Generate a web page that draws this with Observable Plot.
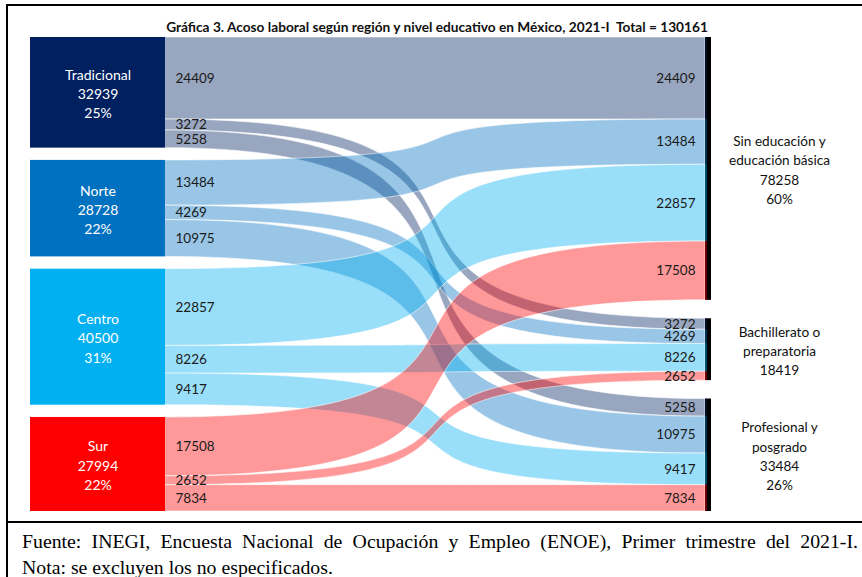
<!DOCTYPE html>
<html>
<head>
<meta charset="utf-8">
<script src="https://cdn.jsdelivr.net/npm/d3@7"></script>
<script src="https://cdn.jsdelivr.net/npm/@observablehq/plot@0.6"></script>
<style>
  html, body { margin: 0; padding: 0; background: #fff; }
  body { width: 862px; height: 577px; position: relative; overflow: hidden; font-family: Lato, sans-serif; }
  #frame { position: absolute; left: 6px; top: 4px; width: 860px; height: 600px; border-top: 2px solid #000; border-left: 2px solid #000; }
  #title { position: absolute; top: 18px; left: 0; width: 874px; text-align: center; font: bold 13.7px Lato, sans-serif; color: #111; white-space: pre; }
  #chart { position: absolute; left: 0; top: 35px; }
  #sep { position: absolute; left: 6px; top: 521px; width: 860px; height: 2px; background: #000; }
  #footer { position: absolute; left: 22px; top: 528px; width: 836px; font-family: "Liberation Serif", "Times New Roman", serif; font-size: 19.8px; line-height: 26px; color: #000; }
  #footer .l1 { text-align: justify; text-align-last: justify; }
</style>
</head>
<body>
<div id="frame"></div>
<div id="title">Gráfica 3. Acoso laboral según región y nivel educativo en México, 2021-I  Total = 130161</div>
<div id="chart"></div>
<div id="sep"></div>
<div id="footer">
  <div class="l1">Fuente: INEGI, Encuesta Nacional de Ocupación y Empleo (ENOE), Primer trimestre del 2021-I.</div>
  <div>Nota: se excluyen los no especificados.</div>
</div>
<script>
// ---- data ----
const regions = ["Tradicional", "Norte", "Centro", "Sur"];
const regionTotals = [32939, 28728, 40500, 27994];
const regionColors = ["#002060", "#0070C0", "#00B0F0", "#FF0000"];
const levels = ["Sin educación y\neducación básica", "Bachillerato o\npreparatoria", "Profesional y\nposgrado"];
const levelTotals = [78258, 18419, 33484];
const levelShowPct = [true, false, true];
// flows by level, in region order (Tradicional, Norte, Centro, Sur)
const sinEducacion = [24409, 13484, 22857, 17508];
const bachillerato = [3272, 4269, 8226, 2652];
const profesional = [5258, 10975, 9417, 7834];
const grandTotal = 130161;

// ---- layout (derived) ----
const flows = [sinEducacion, bachillerato, profesional];
const gapL = 3650;
const D = grandTotal + 3 * gapL;
const gapR = (D - grandTotal) / 2;
const pct = v => Math.round(100 * v / grandTotal) + "%";

const leftNodes = [];
let acc = 0;
regions.forEach((r, i) => {
  leftNodes.push({name: r, y1: acc, y2: acc + regionTotals[i], color: regionColors[i],
    label: r + "\n" + regionTotals[i] + "\n" + pct(regionTotals[i])});
  acc += regionTotals[i] + gapL;
});
const rightNodes = [];
acc = 0;
levels.forEach((l, j) => {
  rightNodes.push({name: l, y1: acc, y2: acc + levelTotals[j],
    label: l + "\n" + levelTotals[j] + (levelShowPct[j] ? "\n" + pct(levelTotals[j]) : "")});
  acc += levelTotals[j] + gapR;
});
const links = [];
regions.forEach((r, i) => {
  let s = leftNodes[i].y1;
  levels.forEach((l, j) => {
    const v = flows[j][i];
    let t = rightNodes[j].y1;
    for (let k = 0; k < i; k++) t += flows[j][k];
    links.push({id: r + "-" + j, value: v, color: regionColors[i], sy1: s, sy2: s + v, ty1: t, ty2: t + v});
    s += v;
  });
});
const linkPts = links.flatMap(d => [
  {id: d.id, color: d.color, x: 0, y1: d.sy1, y2: d.sy2},
  {id: d.id, color: d.color, x: 1, y1: d.ty1, y2: d.ty2}
]);

// steeper horizontal bump curve (control points pushed toward the middle-opposite ends)
function steepBump(context) {
  const a = 0.82;
  return {
    areaStart() { this._line = 0; },
    areaEnd() { this._line = NaN; },
    lineStart() { this._point = 0; },
    lineEnd() {
      if (this._line || (this._line !== 0 && this._point === 1)) context.closePath();
      this._line = 1 - this._line;
    },
    point(x, y) {
      x = +x; y = +y;
      if (this._point === 0) {
        this._point = 1;
        if (this._line) context.lineTo(x, y); else context.moveTo(x, y);
      } else {
        const dx = x - this._x0;
        context.bezierCurveTo(this._x0 + a * dx, this._y0, x - a * dx, y, x, y);
      }
      this._x0 = x; this._y0 = y;
    }
  };
}

const nodeW = 135 / 540;
const barW = 6 / 540;
const stripW = 2 / 540;
const font = "Lato";

const chart = Plot.plot({
  width: 862,
  height: 480,
  marginTop: 0, marginBottom: 0, marginLeft: 0, marginRight: 0,
  style: {fontFamily: font, background: "transparent"},
  x: {domain: [0, 1], range: [165, 705], axis: null},
  y: {domain: [0, D], range: [2, 476], axis: null},
  color: {type: "identity"},
  marks: [
    Plot.areaY(linkPts, {x: "x", y1: "y1", y2: "y2", z: "id", fill: "color", fillOpacity: 0.4,
      stroke: "white", strokeWidth: 0.8, strokeOpacity: 0.7, curve: steepBump}),
    Plot.rect(leftNodes, {x1: -nodeW, x2: 0, y1: "y1", y2: "y2", fill: "color"}),
    Plot.rect(rightNodes, {x1: 1, x2: 1 + barW, y1: "y1", y2: "y2", fill: "black"}),
    Plot.rect(links, {x1: 1, x2: 1 + stripW, y1: "ty1", y2: "ty2", fill: "color", fillOpacity: 0.45}),
    Plot.text(leftNodes, {x: -nodeW / 2, y: d => (d.y1 + d.y2) / 2, text: "label", fill: "white",
      fontSize: 14, lineHeight: 1.38, fontFamily: font}),
    Plot.text(links, {x: 0, y: d => (d.sy1 + d.sy2) / 2, text: d => String(d.value), textAnchor: "start",
      dx: 10, fill: "#1a1a1a", fontSize: 13.5, fontFamily: font}),
    Plot.text(links, {x: 1, y: d => (d.ty1 + d.ty2) / 2, text: d => String(d.value), textAnchor: "end",
      dx: -10, fill: "#1a1a1a", fontSize: 13.5, fontFamily: font}),
    Plot.text(rightNodes, {x: 1 + 74 / 540, y: d => (d.y1 + d.y2) / 2, text: "label", fill: "#111",
      fontSize: 13.6, lineHeight: 1.42, fontFamily: font})
  ]
});
document.getElementById("chart").appendChild(chart);
</script>
</body>
</html>
